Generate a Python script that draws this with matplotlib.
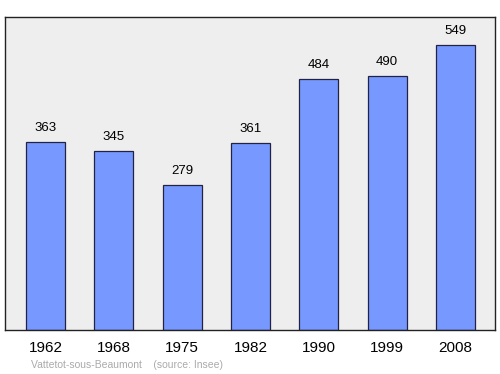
import matplotlib
matplotlib.use('agg')
import matplotlib.pyplot as plt
import numpy as np

years = ['1962', '1968', '1975', '1982', '1990', '1999', '2008']
population = [363, 345, 279, 361, 484, 490, 549]
town = 'Vattetot-sous-Beaumont'
source = '(source: Insee)'

plt.rcParams['font.family'] = ['Liberation Sans', 'DejaVu Sans']

fig = plt.figure(figsize=(5, 3.74), dpi=100)
ax = fig.add_axes([0.01, 0.1176, 0.98, 0.837])
ax.set_facecolor('#eeeeee')

x = np.arange(len(years))
ax.bar(x, population, width=0.57, color='#7799ff', edgecolor='#222244', linewidth=0.9)

for xi, val in zip(x, population):
    ax.annotate(str(val), (xi, val), xytext=(0, 6), textcoords='offset points',
                ha='center', va='bottom', fontsize=9.5)

ax.set_xlim(-0.593, 6.578)
ax.set_ylim(0, 604)
ax.set_yticks([])
ax.set_xticks(x)
ax.set_xticklabels(years, fontsize=11)
ax.tick_params(axis='x', length=0, pad=8)
for spine in ax.spines.values():
    spine.set_color('#222222')
    spine.set_linewidth(1.0)

fig.text(31 / 500, 1 - 365 / 374, town + '    ' + source, fontsize=7.5,
         color='#aaaaaa', va='center', ha='left')

fig.savefig('out.png', dpi=100)
